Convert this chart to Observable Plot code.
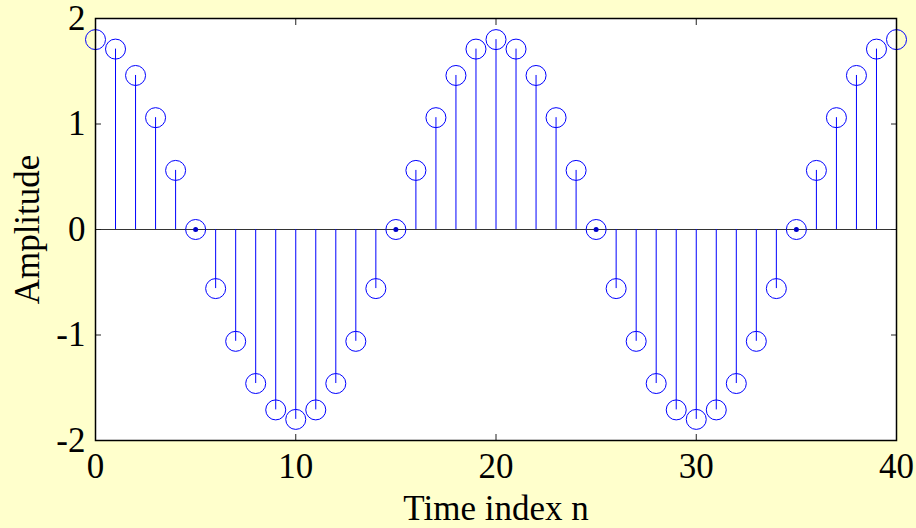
<!DOCTYPE html>
<html>
<head>
<meta charset="utf-8">
<script src="https://cdn.jsdelivr.net/npm/d3@7"></script>
<script src="https://cdn.jsdelivr.net/npm/@observablehq/plot@0.6"></script>
<style>
  html, body { margin: 0; padding: 0; background: #ffffcc; }
</style>
</head>
<body>
<div id="chart"></div>
<script>
const timeIndex = [0,1,2,3,4,5,6,7,8,9,10,11,12,13,14,15,16,17,18,19,20,21,22,23,24,25,26,27,28,29,30,31,32,33,34,35,36,37,38,39,40];
const amplitude = [1.8,1.71,1.46,1.06,0.56,0,-0.56,-1.06,-1.46,-1.71,-1.8,-1.71,-1.46,-1.06,-0.56,0,0.56,1.06,1.46,1.71,1.8,1.71,1.46,1.06,0.56,0,-0.56,-1.06,-1.46,-1.71,-1.8,-1.71,-1.46,-1.06,-0.56,0,0.56,1.06,1.46,1.71,1.8];
const xTicks = [0, 10, 20, 30, 40];
const yTicks = [-2, -1, 0, 1, 2];
const xLabel = "Time index n";
const yLabel = "Amplitude";

const data = timeIndex.map((n, i) => ({n, v: amplitude[i]}));
const zeros = data.filter(d => d.v === 0);
const fs = 35;

const chart = Plot.plot({
  width: 916,
  height: 528,
  marginLeft: 95,
  marginRight: 20,
  marginTop: 18,
  marginBottom: 88,
  style: {background: "#ffffcc", fontFamily: "'Liberation Serif', 'Times New Roman', serif", fontSize: fs + "px", color: "black"},
  x: {domain: [0, 40], ticks: xTicks, label: null},
  y: {domain: [-2, 2], ticks: yTicks, label: null},
  marks: [
    Plot.frame({fill: "white", stroke: "none"}),
    Plot.ruleY([0], {stroke: "#333", strokeWidth: 1}),
    Plot.axisX(xTicks, {anchor: "bottom", tickSize: 6, dy: -6, text: null, stroke: "#222"}),
    Plot.axisX(xTicks, {anchor: "top", tickSize: 6, dy: 6, text: null, stroke: "#222"}),
    Plot.axisY(yTicks, {anchor: "left", tickSize: 6, dx: 6, text: null, stroke: "#222"}),
    Plot.axisY(yTicks, {anchor: "right", tickSize: 6, dx: -6, text: null, stroke: "#222"}),
    Plot.ruleX(data, {x: "n", y1: 0, y2: "v", stroke: "blue", strokeWidth: 1}),
    Plot.dot(data, {x: "n", y: "v", r: 10, stroke: "blue", strokeWidth: 1, fill: "none"}),
    Plot.dot(zeros, {x: "n", y: "v", r: 2.5, fill: "#0000cc", stroke: "none"}),
    Plot.frame({stroke: "black", strokeWidth: 1.5}),
    Plot.axisX(xTicks, {anchor: "bottom", tickSize: 0, tickPadding: 13, fontSize: fs, tickFormat: d => String(d), label: null}),
    Plot.axisY(yTicks, {anchor: "left", tickSize: 0, tickPadding: 10, fontSize: fs, tickFormat: d => d < 0 ? "-" + Math.abs(d) : String(d), label: null}),
    Plot.text([xLabel], {frameAnchor: "bottom", dy: 68, text: d => d, fontSize: fs, lineAnchor: "middle", textAnchor: "middle"}),
    Plot.text([yLabel], {frameAnchor: "left", dx: -68, rotate: -90, text: d => d, fontSize: fs, lineAnchor: "middle", textAnchor: "middle"})
  ]
});
document.getElementById("chart").appendChild(chart);
</script>
</body>
</html>
